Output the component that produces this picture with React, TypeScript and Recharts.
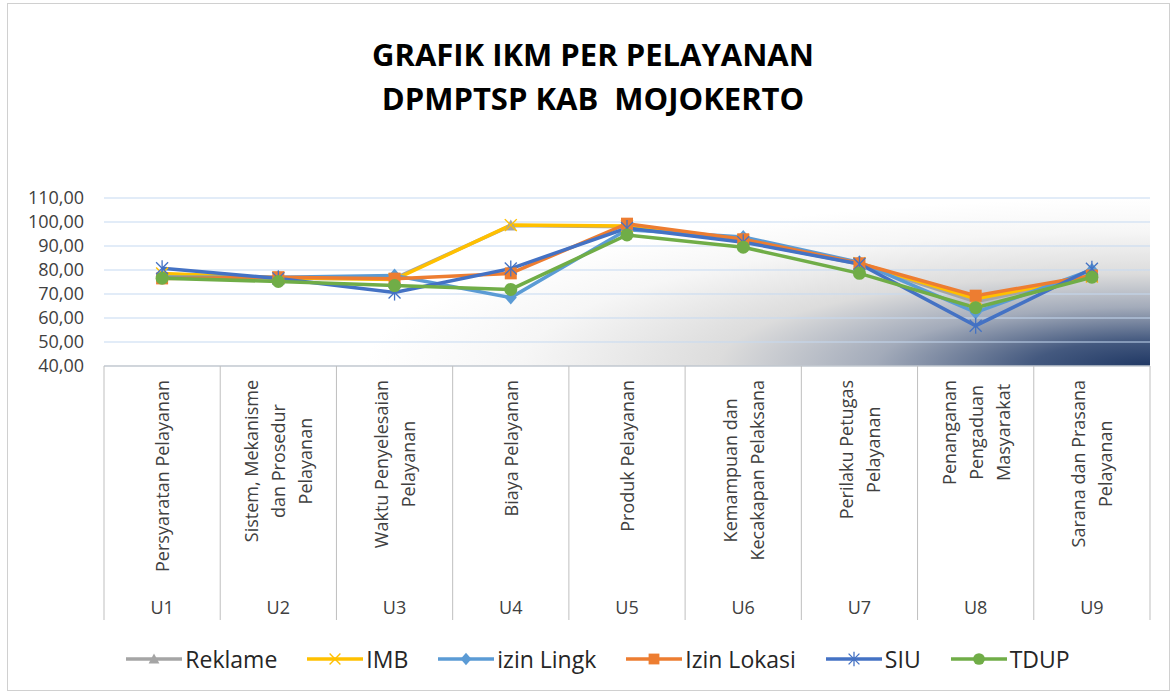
import React from "react";
import { LineChart, Line, XAxis, YAxis, CartesianGrid } from "recharts";

const codes = ["U1", "U2", "U3", "U4", "U5", "U6", "U7", "U8", "U9"];
const categoryLines = [
  ["Persyaratan Pelayanan"],
  ["Sistem, Mekanisme", "dan Prosedur", "Pelayanan"],
  ["Waktu Penyelesaian", "Pelayanan"],
  ["Biaya Pelayanan"],
  ["Produk Pelayanan"],
  ["Kemampuan dan", "Kecakapan Pelaksana"],
  ["Perilaku Petugas", "Pelayanan"],
  ["Penanganan", "Pengaduan", "Masyarakat"],
  ["Sarana dan Prasana", "Pelayanan"],
];

const reklame = [78.0, 76.5, 76.5, 98.5, 98.0, 92.0, 82.5, 66.8, 77.0];
const imb = [78.5, 76.8, 76.0, 98.7, 98.3, 92.3, 82.8, 68.0, 77.3];
const izinLingk = [77.0, 77.0, 77.7, 68.5, 96.8, 93.8, 83.2, 62.3, 80.0];
const izinLokasi = [76.5, 77.0, 76.4, 78.6, 99.3, 92.8, 82.8, 69.3, 77.7];
const siu = [80.7, 76.5, 70.6, 80.6, 97.5, 91.6, 82.5, 56.8, 80.5];
const tdup = [76.6, 75.2, 73.5, 71.9, 94.6, 89.5, 78.6, 64.3, 77.0];

const yTicks = [40, 50, 60, 70, 80, 90, 100, 110];

const data = codes.map((code, i) => ({
  code,
  reklame: reklame[i],
  imb: imb[i],
  izinLingk: izinLingk[i],
  izinLokasi: izinLokasi[i],
  siu: siu[i],
  tdup: tdup[i],
}));

type Shape = "triangle" | "x" | "diamond" | "square" | "star" | "circle";

const series: { key: string; name: string; color: string; shape: Shape }[] = [
  { key: "reklame", name: "Reklame", color: "#a5a5a5", shape: "triangle" },
  { key: "imb", name: "IMB", color: "#ffc000", shape: "x" },
  { key: "izinLingk", name: "izin Lingk", color: "#5b9bd5", shape: "diamond" },
  { key: "izinLokasi", name: "Izin Lokasi", color: "#ed7d31", shape: "square" },
  { key: "siu", name: "SIU", color: "#4472c4", shape: "star" },
  { key: "tdup", name: "TDUP", color: "#70ad47", shape: "circle" },
];

const FONT = "'Open Sans', 'DejaVu Sans', sans-serif";
const PLOT_W = 1046;

let ctx: CanvasRenderingContext2D | null = null;
function textWidth(s: string) {
  if (!ctx && typeof document !== "undefined") {
    ctx = document.createElement("canvas").getContext("2d");
  }
  if (!ctx) return s.length * 9;
  ctx.font = "18px 'Open Sans'";
  return ctx.measureText(s).width;
}

function Marker({ shape, color, cx, cy, s = 1 }: { shape: Shape; color: string; cx: number; cy: number; s?: number }) {
  switch (shape) {
    case "triangle":
      return (
        <polygon
          points={`${cx},${cy - 6 * s} ${cx + 6 * s},${cy + 5 * s} ${cx - 6 * s},${cy + 5 * s}`}
          fill={color}
        />
      );
    case "x":
      return (
        <g stroke={color} strokeWidth={1.4}>
          <line x1={cx - 6 * s} y1={cy - 6 * s} x2={cx + 6 * s} y2={cy + 6 * s} />
          <line x1={cx - 6 * s} y1={cy + 6 * s} x2={cx + 6 * s} y2={cy - 6 * s} />
        </g>
      );
    case "diamond":
      return (
        <polygon
          points={`${cx},${cy - 7 * s} ${cx + 6 * s},${cy} ${cx},${cy + 7 * s} ${cx - 6 * s},${cy}`}
          fill={color}
        />
      );
    case "square":
      return <rect x={cx - 6 * s} y={cy - 6 * s} width={12 * s} height={12 * s} fill={color} />;
    case "star":
      return (
        <g stroke={color} strokeWidth={1.3}>
          <line x1={cx} y1={cy - 8 * s} x2={cx} y2={cy + 8 * s} />
          <line x1={cx - 6 * s} y1={cy - 6 * s} x2={cx + 6 * s} y2={cy + 6 * s} />
          <line x1={cx - 6 * s} y1={cy + 6 * s} x2={cx + 6 * s} y2={cy - 6 * s} />
        </g>
      );
    default:
      return <circle cx={cx} cy={cy} r={6.5 * s} fill={color} />;
  }
}

const makeDot = (shape: Shape, color: string) => (p: any) => {
  if (p.cx == null || p.cy == null) return <g key={`e-${p.index}`} />;
  return (
    <g key={`${shape}-${p.index}`}>
      <Marker shape={shape} color={color} cx={p.cx} cy={p.cy} />
    </g>
  );
};

function CategoryTick(props: any) {
  const { x, y, payload } = props;
  const i: number = payload.index;
  const half: number = payload.offset || PLOT_W / codes.length / 2;
  const lines = categoryLines[i];
  const maxLen = Math.max(...lines.map(textWidth));
  const cy = y + 14 + maxLen / 2;
  return (
    <g>
      <line x1={x - half} x2={x - half} y1={y} y2={y + 254} stroke="#bfbfbf" />
      {i === codes.length - 1 && (
        <line x1={x + half} x2={x + half} y1={y} y2={y + 254} stroke="#bfbfbf" />
      )}
      {lines.map((ln, k) => {
        const lx = x + (k - (lines.length - 1) / 2) * 27;
        return (
          <text
            key={k}
            x={lx}
            y={cy}
            transform={`rotate(-90 ${lx} ${cy})`}
            textAnchor="middle"
            dominantBaseline="central"
            fontFamily={FONT}
            fontSize={18}
            fill="#404040"
          >
            {ln}
          </text>
        );
      })}
      <text
        x={x}
        y={y + 241}
        textAnchor="middle"
        dominantBaseline="central"
        fontFamily={FONT}
        fontSize={18}
        fill="#404040"
      >
        {codes[i]}
      </text>
    </g>
  );
}

export default function App() {
  return (
    <div
      style={{
        position: "absolute",
        left: 0,
        top: 0,
        width: 1176,
        height: 693,
        background: "#fff",
        fontFamily: FONT,
      }}
    >
      <div
        style={{
          position: "absolute",
          left: 7,
          top: 3,
          width: 1161,
          height: 686,
          border: "1px solid #d0d0d0",
        }}
      />
      <div
        style={{
          position: "absolute",
          left: 0,
          top: 32,
          width: 1186,
          textAlign: "center",
          fontWeight: 700,
          fontSize: 31,
          lineHeight: "44px",
          color: "#000",
          whiteSpace: "pre",
        }}
      >
        {"GRAFIK IKM PER PELAYANAN\nDPMPTSP KAB  MOJOKERTO"}
      </div>
      <div style={{ position: "absolute", left: 0, top: 0 }}>
        <LineChart width={1176} height={693} data={data} margin={{ top: 198, right: 26, bottom: 73, left: 8 }}>
          <defs>
            <radialGradient
              id="plotBg"
              cx="1"
              cy="1"
              r="1"
              gradientTransform="translate(1,1) scale(0.75,1) translate(-1,-1)"
            >
              <stop offset="0" stopColor="#203864" />
              <stop offset="0.15" stopColor="#44597f" />
              <stop offset="0.35" stopColor="#a3abba" />
              <stop offset="0.55" stopColor="#dcdcdc" />
              <stop offset="0.8" stopColor="#f6f6f6" />
              <stop offset="1" stopColor="#ffffff" />
            </radialGradient>
          </defs>
          <CartesianGrid vertical={false} stroke="#c5d9f1" fill="url(#plotBg)" fillOpacity={1} />
          <XAxis
            dataKey="code"
            scale="band"
            interval={0}
            height={254}
            tickLine={false}
            tickSize={0}
            tickMargin={0}
            axisLine={{ stroke: "#bfbfbf" }}
            tick={<CategoryTick />}
          />
          <YAxis
            width={96}
            domain={[40, 110]}
            ticks={yTicks}
            interval={0}
            axisLine={false}
            tickLine={false}
            tickSize={0}
            tickMargin={20}
            tick={{ fontSize: 18, fill: "#404040", fontFamily: FONT }}
            tickFormatter={(v: number) => v.toFixed(2).replace(".", ",")}
          />
          {series.map((s) => (
            <Line
              key={s.key}
              dataKey={s.key}
              name={s.name}
              type="linear"
              stroke={s.color}
              strokeWidth={3.5}
              dot={makeDot(s.shape, s.color)}
              activeDot={false}
              isAnimationActive={false}
            />
          ))}
        </LineChart>
      </div>
      <div
        style={{
          position: "absolute",
          left: 10,
          top: 643,
          width: 1176,
          display: "flex",
          justifyContent: "center",
          alignItems: "center",
          fontSize: 23,
          color: "#262626",
        }}
      >
        {series.map((s) => (
          <div key={s.key} style={{ display: "flex", alignItems: "center", margin: "0 15px" }}>
            <svg width={56} height={24}>
              <line x1={0} x2={56} y1={12} y2={12} stroke={s.color} strokeWidth={3.5} />
              <Marker shape={s.shape} color={s.color} cx={28} cy={12} s={0.9} />
            </svg>
            <span style={{ marginLeft: 3 }}>{s.name}</span>
          </div>
        ))}
      </div>
    </div>
  );
}
